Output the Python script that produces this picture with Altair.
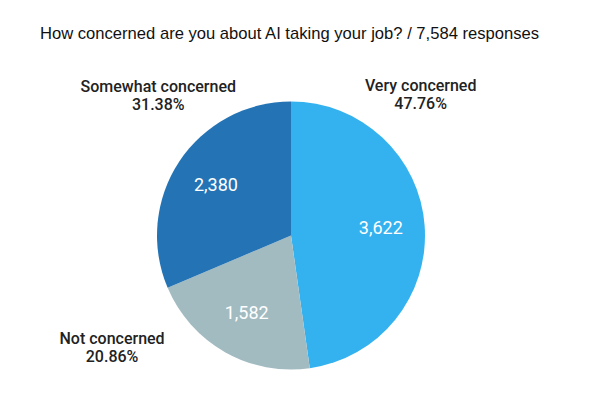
import altair as alt
import pandas as pd

categories = ["Very concerned", "Not concerned", "Somewhat concerned"]
counts = [3622, 1582, 2380]
percents = ["47.76%", "20.86%", "31.38%"]
count_labels = ["3,622", "1,582", "2,380"]
colors = ["#33B2EF", "#A2BBC1", "#2474B5"]

df = pd.DataFrame({
    "category": categories,
    "count": counts,
    "order": list(range(len(categories))),
    "count_label": count_labels,
    "label": [f"{c}\n{p}" for c, p in zip(categories, percents)],
})

base = alt.Chart(df).encode(
    theta=alt.Theta("count:Q", stack=True),
    order=alt.Order("order:Q"),
)

pie = base.mark_arc(outerRadius=134, stroke=None).encode(
    color=alt.Color("category:N", scale=alt.Scale(domain=categories, range=colors), legend=None)
)

inner = base.mark_text(radius=90, font="Roboto", fontSize=18, color="white", fontWeight=400).encode(
    text="count_label:N"
)

offsets = {
    "Very concerned": (-4, -140),
    "Not concerned": (-113, -13),
    "Somewhat concerned": (-21, -75),
}
stacked = alt.Chart(df).transform_stack(
    stack="count", as_=["s0", "s1"], groupby=[], sort=[alt.SortField("order")]
).transform_calculate(mid="(datum.s0 + datum.s1) / 2")

outer_layers = []
for cat in categories:
    dx, dy = offsets[cat]
    outer_layers.append(
        stacked.transform_filter(alt.datum.category == cat).mark_text(
            radius=134, font="Roboto", fontSize=16, fontWeight=500, color="#222222",
            lineBreak="\n", lineHeight=18, dx=dx, dy=dy, align="center", baseline="middle",
        ).encode(
            theta=alt.Theta("mid:Q", stack=None),
            text="label:N",
        )
    )

chart = alt.layer(pie, inner, *outer_layers).properties(
    width=582,
    height=351,
    padding={"left": 0, "top": 60, "right": 18, "bottom": 0},
    autosize=alt.AutoSizeParams(type="none"),
    title=alt.TitleParams(
        "How concerned are you about AI taking your job? / 7,584 responses",
        anchor="start", frame="group", dx=40, offset=17,
        font="Liberation Sans", fontSize=16.6, fontWeight="normal", color="#111111",
    ),
).configure_view(stroke=None)

chart.save("out.html", embed_options={"renderer": "svg", "actions": False})
